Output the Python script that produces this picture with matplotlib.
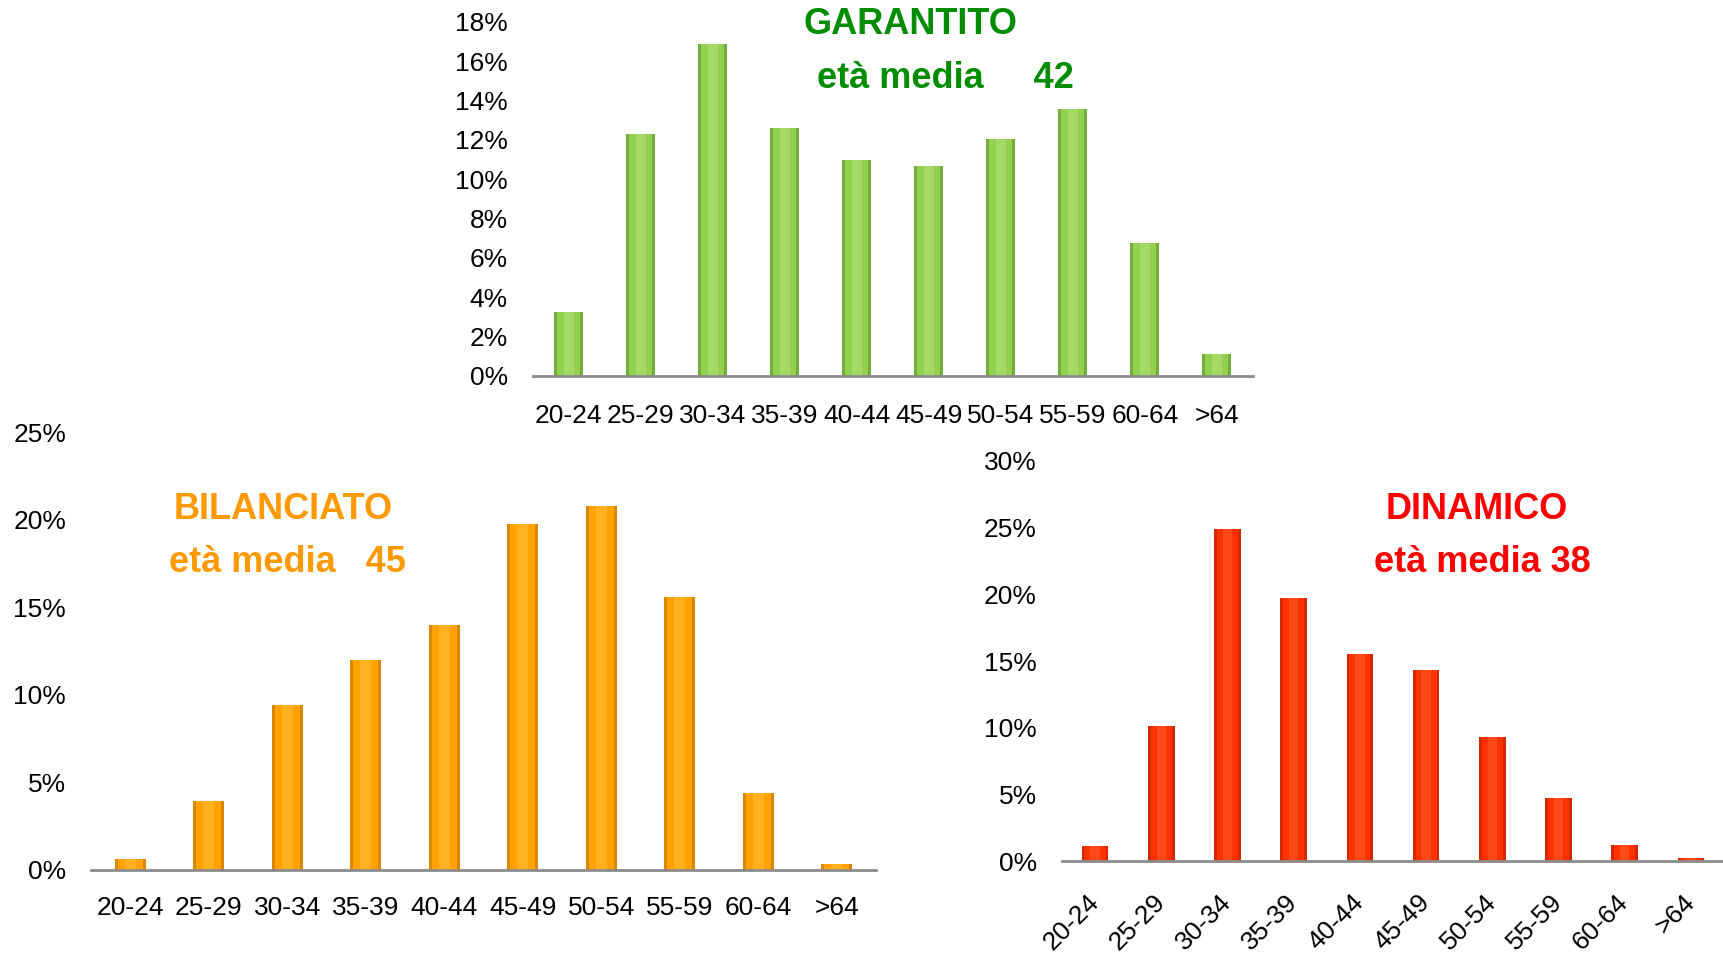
import matplotlib
matplotlib.use("Agg")
import matplotlib.pyplot as plt
from matplotlib.ticker import FuncFormatter

categories = ["20-24", "25-29", "30-34", "35-39", "40-44", "45-49", "50-54", "55-59", "60-64", ">64"]
garantito = [3.27, 12.3, 16.9, 12.6, 11.0, 10.7, 12.05, 13.55, 6.78, 1.12]
bilanciato = [0.65, 3.96, 9.4, 11.98, 13.96, 19.76, 20.77, 15.56, 4.38, 0.32]
dinamico = [1.15, 10.1, 24.9, 19.7, 15.5, 14.3, 9.3, 4.75, 1.2, 0.25]

plt.rcParams['font.family'] = ['Liberation Sans', 'DejaVu Sans']

fig = plt.figure(figsize=(17.24, 9.63), dpi=100)

def style(ax, vals, ymax, step, color, dark, light, rot=False, ypad=18, xpad=20):
    x = list(range(len(categories)))
    # cylinder-like shading: darker outer bar, main colour, lighter centre
    ax.bar(x, vals, width=0.4, color=dark, linewidth=0, zorder=2)
    ax.bar(x, vals, width=0.32, color=color, linewidth=0, zorder=2.1)
    ax.bar(x, vals, width=0.14, color=light, linewidth=0, zorder=2.2, alpha=0.5)
    ax.set_xlim(-0.5, len(categories) - 0.5)
    ax.set_ylim(0, ymax)
    ax.set_yticks([v for v in range(0, ymax + 1, step)])
    ax.yaxis.set_major_formatter(FuncFormatter(lambda v, p: f"{int(v)}%"))
    ax.set_xticks(x)
    if rot:
        ax.set_xticklabels(categories, rotation=45, ha='right', va='center', rotation_mode='anchor')
    else:
        ax.set_xticklabels(categories)
    for s in ['top', 'right', 'left']:
        ax.spines[s].set_visible(False)
    ax.spines['bottom'].set_color('#8c8c8c')
    ax.spines['bottom'].set_linewidth(2.0)
    ax.spines['bottom'].set_zorder(3)
    ax.tick_params(axis='both', length=0, labelsize=19, colors='black')
    ax.tick_params(axis='y', pad=ypad)
    ax.tick_params(axis='x', pad=xpad)
    ax.patch.set_alpha(0)

ax1 = fig.add_axes([0.309, 0.6096, 0.4177, 0.3676])
style(ax1, garantito, 18, 2, '#92D050', '#74AE3A', '#B8E47E', xpad=20)

ax2 = fig.add_axes([0.0528, 0.0966, 0.4553, 0.4548])
style(ax2, bilanciato, 25, 5, '#FFA200', '#D98600', '#FFC040', xpad=19)

ax3 = fig.add_axes([0.616, 0.1059, 0.384, 0.4154])
style(ax3, dinamico, 30, 5, '#FF3300', '#D42800', '#FF6030', rot=True, xpad=27)

green = '#008C00'
orange = '#FF9900'
red = '#FF0000'
fs = 26
fig.text(0.528, 0.975, "GARANTITO", color=green, fontsize=fs, fontweight='bold', ha='center', va='center')
fig.text(0.5485, 0.919, "età media     42", color=green, fontsize=fs, fontweight='bold', ha='center', va='center')
fig.text(0.164, 0.4714, "BILANCIATO", color=orange, fontsize=fs, fontweight='bold', ha='center', va='center')
fig.text(0.1665, 0.4154, "età media   45", color=orange, fontsize=fs, fontweight='bold', ha='center', va='center')
fig.text(0.8565, 0.4714, "DINAMICO", color=red, fontsize=fs, fontweight='bold', ha='center', va='center')
fig.text(0.8597, 0.4154, "età media 38", color=red, fontsize=fs, fontweight='bold', ha='center', va='center')

fig.savefig("out.png", dpi=100)
